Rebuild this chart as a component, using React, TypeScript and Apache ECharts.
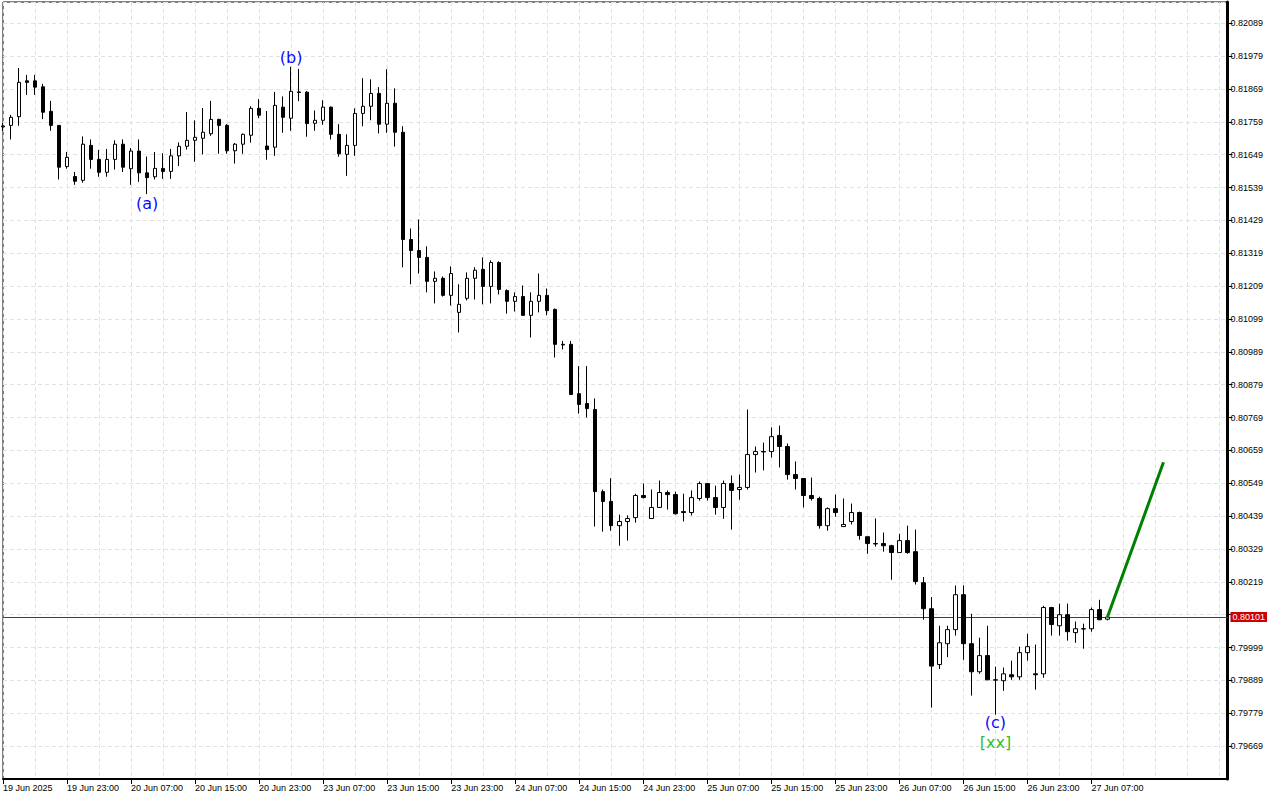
import React, { useEffect, useRef } from "react";
import * as echarts from "echarts";

// Hourly candles: [open, close, low, high]
const ohlc: [number, number, number, number][] = [
  [0.81742, 0.81745, 0.81728, 0.81755],
  [0.81747, 0.81774, 0.817, 0.81782],
  [0.81776, 0.81891, 0.81746, 0.81939],
  [0.81896, 0.81891, 0.81849, 0.81916],
  [0.81896, 0.81875, 0.81849, 0.81916],
  [0.81876, 0.81791, 0.81768, 0.81886],
  [0.81794, 0.81747, 0.81729, 0.81829],
  [0.81747, 0.81607, 0.81566, 0.81748],
  [0.81609, 0.8164, 0.81602, 0.81658],
  [0.81576, 0.8156, 0.81548, 0.81591],
  [0.81563, 0.81684, 0.81555, 0.8171],
  [0.8168, 0.81633, 0.81602, 0.817],
  [0.81633, 0.8159, 0.81575, 0.81665],
  [0.8159, 0.81633, 0.81575, 0.81668],
  [0.81633, 0.81684, 0.81599, 0.81697],
  [0.81684, 0.81607, 0.81591, 0.817],
  [0.81602, 0.81661, 0.81548, 0.81671],
  [0.81661, 0.81588, 0.81558, 0.817],
  [0.81588, 0.81572, 0.81517, 0.81643],
  [0.81575, 0.81603, 0.81566, 0.81658],
  [0.81603, 0.81593, 0.81568, 0.81654],
  [0.81593, 0.81645, 0.81568, 0.81668],
  [0.81645, 0.81677, 0.81611, 0.8169],
  [0.81677, 0.81697, 0.81666, 0.81792],
  [0.81697, 0.81707, 0.81625, 0.81764],
  [0.81704, 0.81724, 0.8165, 0.81805],
  [0.81719, 0.81767, 0.81712, 0.81829],
  [0.81767, 0.81747, 0.81652, 0.81769],
  [0.81747, 0.81662, 0.81652, 0.81751],
  [0.81662, 0.81684, 0.81619, 0.81688],
  [0.81684, 0.81717, 0.81652, 0.8172],
  [0.81714, 0.81804, 0.81689, 0.81811],
  [0.81804, 0.81781, 0.81771, 0.81835],
  [0.81678, 0.81666, 0.81632, 0.81795],
  [0.81674, 0.81814, 0.81645, 0.81859],
  [0.81808, 0.81774, 0.81722, 0.81844],
  [0.81771, 0.81861, 0.81729, 0.81943],
  [0.81859, 0.81857, 0.81828, 0.81936],
  [0.81858, 0.81753, 0.81709, 0.81862],
  [0.81754, 0.81764, 0.81729, 0.81797],
  [0.81764, 0.81808, 0.81749, 0.81831],
  [0.81808, 0.81717, 0.817, 0.8181],
  [0.81717, 0.81652, 0.81642, 0.81751],
  [0.8165, 0.8168, 0.81578, 0.81717],
  [0.8168, 0.81787, 0.81645, 0.81804],
  [0.81787, 0.81811, 0.81744, 0.81905],
  [0.81811, 0.81854, 0.81764, 0.81901],
  [0.81854, 0.81751, 0.8172, 0.81875],
  [0.81751, 0.81821, 0.81722, 0.81935],
  [0.81821, 0.81724, 0.81676, 0.81871],
  [0.81724, 0.81365, 0.81272, 0.81744],
  [0.81365, 0.81328, 0.81215, 0.81402],
  [0.81328, 0.81305, 0.81251, 0.81432],
  [0.81305, 0.81225, 0.81188, 0.81342],
  [0.81225, 0.81235, 0.81151, 0.81258],
  [0.81235, 0.81178, 0.81174, 0.81241],
  [0.81178, 0.81251, 0.81144, 0.81275],
  [0.81121, 0.81148, 0.81054, 0.81215],
  [0.81168, 0.81235, 0.81161, 0.81255],
  [0.81235, 0.81262, 0.81164, 0.81272],
  [0.81265, 0.81208, 0.81148, 0.81305],
  [0.81208, 0.81288, 0.81151, 0.81295],
  [0.81288, 0.81198, 0.81181, 0.81292],
  [0.81194, 0.81158, 0.81117, 0.81198],
  [0.81158, 0.81174, 0.81124, 0.81188],
  [0.81174, 0.81111, 0.8111, 0.81211],
  [0.81111, 0.81158, 0.81037, 0.81188],
  [0.81158, 0.81178, 0.81121, 0.81251],
  [0.81178, 0.81127, 0.81111, 0.81201],
  [0.81131, 0.81014, 0.8097, 0.81134],
  [0.81014, 0.81012, 0.80997, 0.81025],
  [0.81014, 0.80846, 0.80845, 0.81025],
  [0.80849, 0.80813, 0.80782, 0.80941],
  [0.80816, 0.80799, 0.80769, 0.80941],
  [0.80796, 0.80521, 0.80404, 0.80833],
  [0.80521, 0.80488, 0.80387, 0.80528],
  [0.80488, 0.80407, 0.8039, 0.80566],
  [0.80407, 0.80421, 0.8034, 0.80444],
  [0.80421, 0.80431, 0.80357, 0.80441],
  [0.80434, 0.80508, 0.80417, 0.80514],
  [0.80508, 0.80501, 0.80498, 0.80548],
  [0.80431, 0.80468, 0.8043, 0.80528],
  [0.80468, 0.80518, 0.80467, 0.80558],
  [0.80518, 0.80511, 0.80461, 0.80525],
  [0.80511, 0.80447, 0.80444, 0.80521],
  [0.80454, 0.80451, 0.80421, 0.80514],
  [0.80451, 0.80501, 0.80441, 0.80525],
  [0.80498, 0.80548, 0.80491, 0.80555],
  [0.80548, 0.80501, 0.80491, 0.8055],
  [0.80501, 0.80468, 0.80444, 0.80541],
  [0.80468, 0.80548, 0.8043, 0.80558],
  [0.80548, 0.80525, 0.80394, 0.80575],
  [0.80528, 0.80535, 0.80494, 0.80578],
  [0.80535, 0.80645, 0.80528, 0.80796],
  [0.80645, 0.80655, 0.80585, 0.80672],
  [0.80655, 0.80654, 0.80592, 0.80685],
  [0.80655, 0.80705, 0.80635, 0.80736],
  [0.80709, 0.80672, 0.80602, 0.80742],
  [0.80672, 0.80578, 0.80561, 0.80682],
  [0.80578, 0.80565, 0.80528, 0.80622],
  [0.80565, 0.80508, 0.80468, 0.80566],
  [0.80508, 0.80498, 0.80491, 0.80568],
  [0.80498, 0.80407, 0.80397, 0.80504],
  [0.80407, 0.80464, 0.8039, 0.80468],
  [0.80464, 0.80451, 0.80437, 0.80511],
  [0.80404, 0.80411, 0.80403, 0.80498],
  [0.80421, 0.80451, 0.80411, 0.80481],
  [0.80451, 0.80374, 0.8036, 0.80454],
  [0.8037, 0.80347, 0.80313, 0.80371],
  [0.80347, 0.80346, 0.80337, 0.80431],
  [0.80347, 0.8034, 0.8032, 0.80384],
  [0.8034, 0.80317, 0.80226, 0.80343],
  [0.80317, 0.80357, 0.80316, 0.8038],
  [0.80357, 0.80317, 0.80313, 0.80407],
  [0.8032, 0.8022, 0.8021, 0.80394],
  [0.80216, 0.80129, 0.80092, 0.80235],
  [0.80129, 0.79937, 0.79798, 0.80168],
  [0.79942, 0.80015, 0.79927, 0.80072],
  [0.80012, 0.80059, 0.79967, 0.80072],
  [0.80059, 0.80176, 0.80039, 0.80207],
  [0.80176, 0.80012, 0.79958, 0.80207],
  [0.80012, 0.79918, 0.79838, 0.80112],
  [0.79918, 0.79972, 0.79911, 0.80032],
  [0.79972, 0.79891, 0.7989, 0.80072],
  [0.79891, 0.7989, 0.79774, 0.79935],
  [0.79888, 0.79911, 0.79854, 0.79932],
  [0.79908, 0.79901, 0.79891, 0.79955],
  [0.79901, 0.79982, 0.79891, 0.80002],
  [0.79982, 0.80002, 0.79955, 0.80045],
  [0.79911, 0.79908, 0.79858, 0.80009],
  [0.79911, 0.80133, 0.79898, 0.80139],
  [0.80133, 0.80076, 0.80039, 0.80135],
  [0.80072, 0.80109, 0.80039, 0.80146],
  [0.80109, 0.80052, 0.80022, 0.80146],
  [0.80049, 0.80062, 0.80015, 0.80086],
  [0.80062, 0.80061, 0.79995, 0.80079],
  [0.80062, 0.80126, 0.80052, 0.80133],
  [0.80126, 0.80092, 0.80091, 0.80159],
  [0.80094, 0.80101, 0.8009, 0.80104],
];

const xTickLabels = [
  "19 Jun 2025", "19 Jun 23:00", "20 Jun 07:00", "20 Jun 15:00", "20 Jun 23:00",
  "23 Jun 07:00", "23 Jun 15:00", "23 Jun 23:00", "24 Jun 07:00", "24 Jun 15:00",
  "24 Jun 23:00", "25 Jun 07:00", "25 Jun 15:00", "25 Jun 23:00", "26 Jun 07:00",
  "26 Jun 15:00", "26 Jun 23:00", "27 Jun 07:00",
];
const totalSlots = 154; // candles plus empty space on the right
const tickEvery = 8;

const yMin = 0.79559;
const yMax = 0.8216;
const yStep = 0.0011;

const currentPrice = 0.80101;
const hiddenTick = 0.80109;

const projIndex = [138, 145];
const projPrice = [0.80101, 0.80619];

const waveText = ["(a)", "(b)", "(c)", "[xx]"];
const waveIndex = [18, 36, 124, 124];
const wavePrice = [0.81487, 0.81973, 0.79748, 0.79681];

// hourly categories (weekend skipped)
function buildCategories(): string[] {
  const out: string[] = [];
  let t = Date.UTC(2025, 5, 19, 15, 0);
  const mon = ["Jan","Feb","Mar","Apr","May","Jun","Jul","Aug","Sep","Oct","Nov","Dec"];
  while (out.length < totalSlots) {
    const d = new Date(t);
    const wd = d.getUTCDay();
    if (wd !== 0 && wd !== 6) {
      const hh = String(d.getUTCHours()).padStart(2, "0");
      out.push(`${d.getUTCDate()} ${mon[d.getUTCMonth()]} ${hh}:00`);
    }
    t += 3600000;
  }
  return out;
}

const FONT = "Liberation Sans";
const WAVE_BLUE = "#0a0aff";
const WAVE_GREEN = "#2fbf2f";

export default function App() {
  const ref = useRef<HTMLDivElement>(null);
  useEffect(() => {
    if (!ref.current) return;
    const chart = echarts.init(ref.current, undefined, { renderer: "svg" });
    const categories = buildCategories();
    const tickShown = (i: number) => i % tickEvery === 0 && i / tickEvery < xTickLabels.length;
    const gridLine = { color: "#e2e2e2", type: [4, 3] as any, width: 1 };
    const option: any = {
      animation: false,
      backgroundColor: "#ffffff",
      grid: {
        left: 2, right: 52.5, top: 2, bottom: 21,
        show: true, borderColor: "#000", borderWidth: 1, backgroundColor: "transparent",
      },
      xAxis: {
        type: "category",
        data: categories,
        boundaryGap: false,
        axisLine: { show: true, onZero: false, lineStyle: { color: "#000", width: 2 } },
        axisTick: { show: true, interval: (i: number) => tickShown(i), length: 5, lineStyle: { color: "#000" } },
        axisLabel: {
          interval: (i: number) => tickShown(i),
          formatter: (_v: string, i: number) => xTickLabels[i / tickEvery] ?? "",
          align: "left",
          margin: 4,
          fontSize: 9,
          fontFamily: FONT,
          color: "#000",
        },
        splitLine: { show: true, interval: 3, lineStyle: gridLine },
      },
      yAxis: {
        type: "value",
        position: "right",
        min: yMin,
        max: yMax,
        interval: yStep,
        axisLine: { show: true, lineStyle: { color: "#000", width: 3 } },
        axisTick: { show: true, length: 5, lineStyle: { color: "#000" } },
        axisLabel: {
          showMinLabel: false,
          showMaxLabel: false,
          margin: 3,
          fontSize: 9,
          fontFamily: FONT,
          color: "#000",
          formatter: (v: number) => {
            if (Math.abs(v - hiddenTick) < 1e-7) return "";
            if (Math.abs(v - yMin) < 1e-7 || Math.abs(v - yMax) < 1e-7) return "";
            return v.toFixed(5);
          },
        },
        splitLine: { show: true, lineStyle: gridLine },
      },
      series: [
        {
          type: "candlestick",
          data: ohlc,
          barWidth: 4,
          clip: true,
          itemStyle: {
            color: "#ffffff",
            color0: "#000000",
            borderColor: "#000000",
            borderColor0: "#000000",
            borderColorDoji: "#000000",
            borderWidth: 1,
          },
          z: 3,
        },
        {
          type: "line",
          data: projIndex.map((x, k) => [x, projPrice[k]]),
          symbol: "none",
          lineStyle: { color: "#008000", width: 3 },
          z: 5,
          markLine: {
            silent: true,
            precision: 5,
            symbol: ["none", "none"],
            data: [{ yAxis: currentPrice }],
            lineStyle: { color: "#b01010", width: 1, type: "solid" },
            z: 2,
            label: {
              show: true,
              position: "end",
              distance: 3,
              formatter: currentPrice.toFixed(5),
              backgroundColor: "#cc0000",
              color: "#ffffff",
              fontSize: 9,
              fontFamily: FONT,
              padding: [1, 2, 0, 2],
            },
          },
        },
        {
          type: "scatter",
          symbol: "circle",
          symbolSize: 1,
          itemStyle: { color: "transparent" },
          data: waveText.map((t, k) => ({
            value: [waveIndex[k], wavePrice[k]],
            label: {
              show: true,
              position: "inside",
              formatter: t,
              color: t === "[xx]" ? WAVE_GREEN : WAVE_BLUE,
              opacity: 1,
              textBorderWidth: 0,
              textBorderColor: "transparent",
              fontSize: 16,
              fontFamily: "DejaVu Sans",
            },
          })),
          z: 6,
        },
      ],
    };
    chart.setOption(option);
    return () => chart.dispose();
  }, []);
  return (
    <div
      ref={ref}
      style={{ position: "absolute", left: 0, top: 0, width: 1280, height: 800, background: "#fff" }}
    />
  );
}
